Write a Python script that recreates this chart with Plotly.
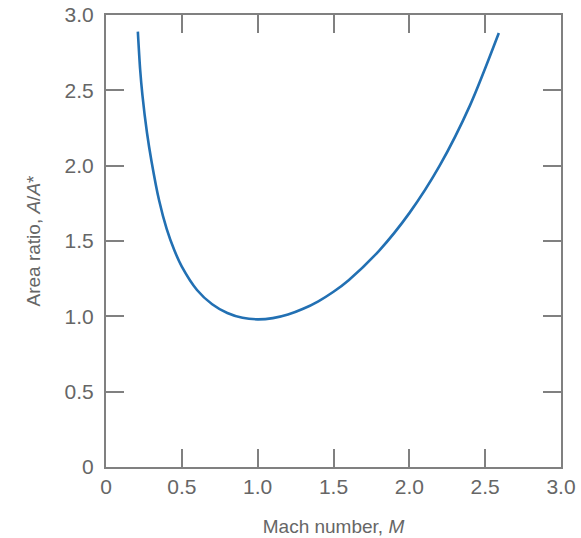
import plotly.graph_objects as go

mach = [0.21, 0.225, 0.24, 0.27, 0.30, 0.35, 0.40, 0.45, 0.50, 0.60, 0.70, 0.80, 0.90,
        1.00, 1.10, 1.20, 1.30, 1.40, 1.50, 1.60, 1.80, 2.00, 2.20, 2.40, 2.59]
area_ratio = [2.89, 2.64, 2.47, 2.22, 2.03, 1.77, 1.58, 1.44, 1.33, 1.175, 1.08, 1.022, 0.99,
              0.98, 0.988, 1.012, 1.05, 1.10, 1.163, 1.24, 1.435, 1.685, 2.00, 2.40, 2.88]

x_ticks = [0, 0.5, 1.0, 1.5, 2.0, 2.5, 3.0]
x_ticktext = ["0", "0.5", "1.0", "1.5", "2.0", "2.5", "3.0"]
y_ticks = [0, 0.5, 1.0, 1.5, 2.0, 2.5, 3.0]
y_ticktext = ["0", "0.5", "1.0", "1.5", "2.0", "2.5", "3.0"]

axis_color = "#808080"
text_color = "#666666"
font_family = "Liberation Sans, Arial, sans-serif"

fig = go.Figure()
fig.add_trace(go.Scatter(
    x=mach, y=area_ratio, mode="lines",
    line=dict(color="#2270b3", width=2.6, shape="spline", smoothing=0.8),
    hoverinfo="skip", showlegend=False,
))

common = dict(
    showgrid=False, zeroline=False, showline=True, linecolor=axis_color, linewidth=2,
    mirror="ticks", ticks="inside", ticklen=18, tickwidth=1.6, tickcolor=axis_color,
    tickfont=dict(family=font_family, size=21, color=text_color),
    automargin=False,
)

fig.update_layout(
    width=581, height=538,
    margin=dict(l=106, r=20, t=15, b=71),
    paper_bgcolor="white", plot_bgcolor="white",
    xaxis=dict(range=[0, 3.0], tickvals=x_ticks, ticktext=x_ticktext,
               ticklabelstandoff=0,
               title=dict(text="Mach number, <i>M</i>", standoff=22,
                          font=dict(family=font_family, size=19, color=text_color)),
               **common),
    yaxis=dict(range=[0, 3.0], tickvals=y_ticks, ticktext=y_ticktext,
               ticklabelstandoff=6,
               title=dict(text="Area ratio, <i>A</i>/<i>A</i>*", standoff=19,
                          font=dict(family=font_family, size=19, color=text_color)),
               **common),
)

fig.write_html("out.html")
